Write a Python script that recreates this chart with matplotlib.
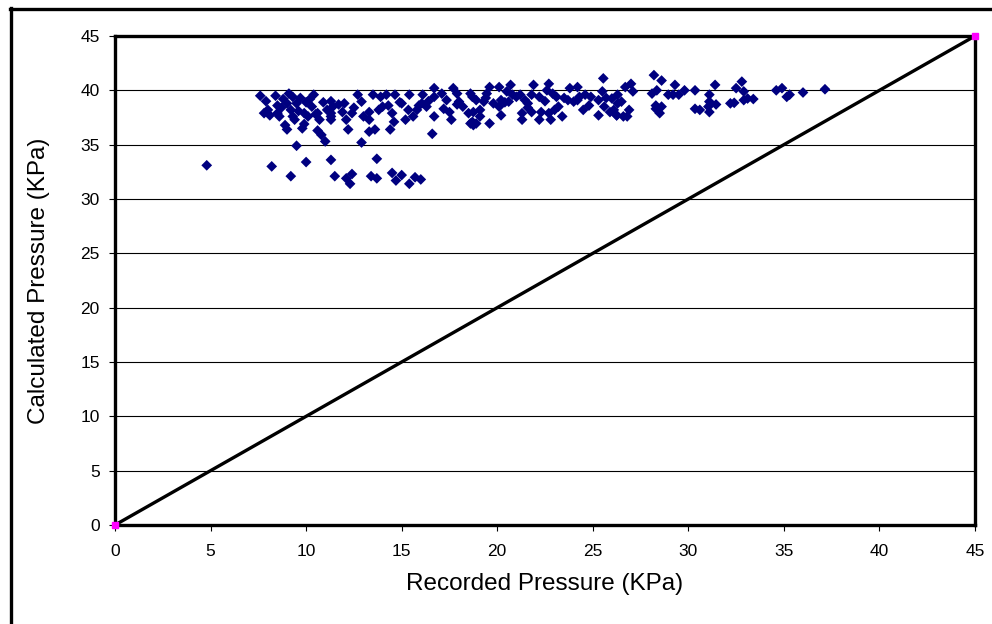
import numpy as np
import matplotlib
matplotlib.use("Agg")
import matplotlib.pyplot as plt
from matplotlib.lines import Line2D

# recorded vs calculated pressure (KPa)
recorded = [
    4.8, 8.2, 9.2, 9.5, 10.0, 11.3, 11.5, 11.0, 12.1, 12.3, 12.4, 12.9, 13.7, 13.4, 13.7,
    14.5, 14.7, 15.0, 15.4, 15.7, 16.0,
    8.9, 9.0, 16.6, 10.6, 10.8, 12.2, 13.3, 13.6, 14.4,
    7.6, 7.9, 8.4, 8.8, 9.1, 9.3, 9.7, 10.4, 8.5, 9.0, 9.5, 10.0, 10.9, 11.3,
    7.8, 8.0, 8.1, 8.5, 8.6, 9.2, 9.3, 9.4, 9.9, 9.9, 9.8, 10.1, 10.3, 10.6, 10.7,
    11.1, 11.3, 11.3, 11.4,
    11.3, 12.7, 12.0, 11.9, 12.1, 12.4, 12.9, 13.3, 13.3, 13.5, 13.9, 14.0, 14.2, 14.3,
    14.5, 14.6, 14.65, 15.0, 15.2, 15.4, 15.35, 15.6, 15.8, 16.1, 16.05, 16.3, 16.7,
    16.7, 16.7, 17.1, 17.35, 17.7, 17.9, 18.0, 17.5, 17.6, 18.2, 18.5, 18.6, 18.75,
    18.6, 18.9,
    18.7, 18.75, 19.1, 19.1, 18.7, 18.9, 19.6, 20.1, 19.45, 19.3, 19.8, 19.6, 20.2,
    20.1, 20.2, 20.5, 20.7, 20.6, 20.8, 21.2, 21.3, 21.3, 21.45, 21.6, 21.8, 21.9,
    21.8, 22.2, 22.2, 22.3, 22.7, 22.6, 22.7, 22.8, 22.9, 23.1, 23.2, 23.4, 23.5,
    23.7, 23.8, 24.2, 24.0, 24.2, 24.5, 24.6, 24.9, 25.3, 25.3, 25.55, 25.5, 25.7,
    25.6, 25.9, 26.25, 26.3,
    26.0, 26.3, 26.5, 26.7, 27.0, 27.1, 26.1, 26.25, 26.6, 26.9, 26.8,
    28.2, 28.6, 28.1, 28.35, 28.3, 28.3, 28.6, 28.5, 28.95, 29.3, 29.2, 29.5, 29.8,
    30.35, 30.35, 30.6, 31.4, 31.1, 31.1, 31.05, 31.1, 31.45, 32.2, 32.4, 32.5, 32.8,
    32.9, 32.9, 33.1, 33.4,
    34.6, 34.9, 35.15, 35.3, 36.0, 37.15,
    8.7, 9.6, 10.2, 10.5, 11.7, 12.5, 13.0, 13.8, 14.9, 15.9, 16.4, 17.2, 17.9, 19.4,
    20.4, 21.0, 21.6, 22.5, 23.0, 24.3, 24.8,
]
calculated = [
    33.1, 33.0, 32.1, 34.9, 33.4, 33.6, 32.1, 35.3, 31.9, 31.4, 32.3, 35.2, 33.7, 32.1, 31.9,
    32.4, 31.7, 32.2, 31.4, 32.0, 31.8,
    36.8, 36.4, 36.0, 36.3, 35.9, 36.4, 36.2, 36.4, 36.4,
    39.5, 39.0, 39.5, 39.2, 39.7, 39.4, 39.3, 39.6, 38.6, 38.8, 38.8, 38.9, 38.9, 39.0,
    37.9, 38.2, 37.7, 37.9, 37.6, 38.2, 37.6, 37.3, 37.9, 36.9, 36.5, 37.6, 38.5, 37.9, 37.3,
    38.2, 37.6, 37.3, 38.5,
    37.9, 39.6, 38.8, 38.0, 37.3, 37.9, 38.96, 38.0, 37.3, 39.6, 39.4, 38.5, 39.6, 38.6,
    37.9, 37.1, 39.6, 38.8, 37.3, 39.6, 38.2, 37.6, 38.2, 39.6, 38.8, 38.5, 37.6,
    40.2, 39.4, 39.7, 39.1, 40.2, 39.7, 38.96, 38.0, 37.3, 38.5, 37.9, 36.95, 36.8,
    39.7, 39.1,
    39.4, 38.0, 38.2, 37.6, 37.1, 36.95, 40.3, 40.3, 39.7, 38.96, 38.8, 36.95, 39.1,
    38.5, 37.7, 39.9, 40.5, 38.96, 39.6, 39.6, 37.9, 37.3, 39.1, 38.8, 39.6, 40.5,
    38.0, 37.3, 39.4, 38.0, 40.6, 40.0, 37.9, 37.3, 39.7, 39.4, 38.5, 37.6, 39.3,
    39.1, 40.2, 40.3, 38.96, 39.1, 38.2, 39.6, 39.4, 39.1, 37.7, 41.1, 39.9, 39.3,
    38.5, 38.0, 37.7, 38.8,
    39.25, 39.6, 38.96, 40.3, 40.6, 39.9, 38.2, 37.7, 37.6, 38.2, 37.6,
    41.4, 40.9, 39.7, 40.0, 38.6, 38.3, 38.5, 37.9, 39.6, 40.5, 39.6, 39.6, 40.0,
    40.0, 38.3, 38.2, 40.5, 39.6, 38.96, 38.5, 38.0, 38.7, 38.8, 38.85, 40.2, 40.8,
    39.9, 39.1, 39.25, 39.2,
    40.0, 40.2, 39.4, 39.6, 39.8, 40.1,
    38.4, 38.1, 39.2, 37.8, 38.7, 38.4, 37.6, 38.2, 38.9, 38.6, 39.0, 38.3, 38.7, 39.3,
    38.9, 39.4, 38.4, 39.0, 38.2, 39.4, 38.6,
]

# 1:1 reference line
line_x = [0, 45]
line_y = [0, 45]

x_ticks = list(range(0, 50, 5))
y_ticks = list(range(0, 50, 5))

plt.rcParams['font.family'] = ['Liberation Sans', 'DejaVu Sans']

fig = plt.figure(figsize=(9.92, 6.24), dpi=100)
ax = fig.add_axes([115/992, 99/624, 860/992, 489/624])

for y in y_ticks[1:-1]:
    ax.axhline(y, color='black', lw=0.8, zorder=1)

ax.scatter(recorded, calculated, marker='D', s=30, color='#000080',
           edgecolors='none', zorder=3)
ax.plot(line_x, line_y, color='black', lw=2.4, zorder=4, solid_capstyle='butt')
ax.plot(line_x, line_y, ls='none', marker='s', ms=5, color='#ff00ff',
        clip_on=False, zorder=5)

ax.set_xlim(0, 45)
ax.set_ylim(0, 45)
ax.set_xticks(x_ticks)
ax.set_yticks(y_ticks)
ax.tick_params(direction='out', length=4, width=0.8, labelsize=12.5)
ax.tick_params(axis='x', pad=10)
ax.tick_params(axis='y', pad=7)

for s in ax.spines.values():
    s.set_linewidth(2.4)
    s.set_color('black')

ax.set_xlabel('Recorded Pressure (KPa)', fontsize=17.5, labelpad=10)
ax.set_ylabel('Calculated Pressure (KPa)', fontsize=17.5, labelpad=22)

# outer chart-area frame (only the left and top edges fall inside the image)
fig.add_artist(Line2D([10.5/992, 10.5/992], [0, 1 - 8/624], color='black', lw=2.4,
                      transform=fig.transFigure))
fig.add_artist(Line2D([10/992, 1], [1 - 8.5/624, 1 - 8.5/624], color='black', lw=2.4,
                      transform=fig.transFigure))

fig.savefig('out.png', dpi=100, facecolor='white')
